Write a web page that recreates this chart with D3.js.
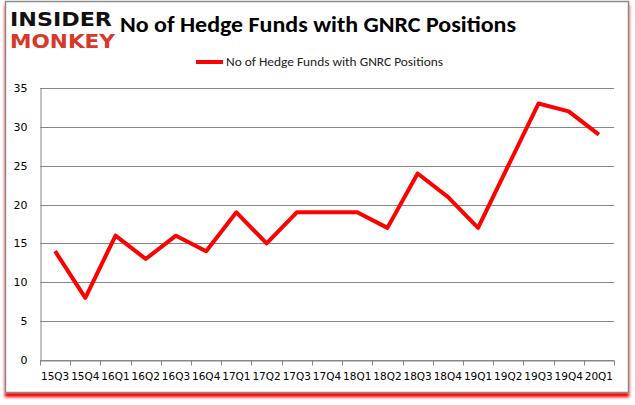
<!DOCTYPE html>
<html>
<head>
<meta charset="utf-8">
<script src="https://cdn.jsdelivr.net/npm/d3@7"></script>
<style>
  body { margin: 0; background: #fff; }
  svg { display: block; }
</style>
</head>
<body>
<div id="chart"></div>
<script>
const quarters = ["15Q3","15Q4","16Q1","16Q2","16Q3","16Q4","17Q1","17Q2","17Q3","17Q4",
                  "18Q1","18Q2","18Q3","18Q4","19Q1","19Q2","19Q3","19Q4","20Q1"];
const hedgeFunds = [14, 8, 16, 13, 16, 14, 19, 15, 19, 19, 19, 17, 24, 21, 17, 25, 33, 32, 29];
const yTicks = [0, 5, 10, 15, 20, 25, 30, 35];
const seriesName = "No of Hedge Funds with GNRC Positions";

const w = 635;
const h = 405;
const font = "Carlito, 'Open Sans', sans-serif";
const tickFont = "'DejaVu Sans', Verdana, sans-serif";

const svg = d3.select("#chart")
              .append("svg")
              .attr("width", w)
              .attr("height", h);

// red shadow under the frame
const defs = svg.append("defs");
const filter = defs.append("filter")
  .attr("id", "shadow")
  .attr("x", "-5%").attr("y", "-5%")
  .attr("width", "110%").attr("height", "112%");
filter.append("feDropShadow")
  .attr("dx", 0).attr("dy", 4)
  .attr("stdDeviation", 1.6)
  .attr("flood-color", "#ff0000")
  .attr("flood-opacity", 1);

svg.append("rect")
  .attr("x", 5.5).attr("y", 1.5)
  .attr("width", 623).attr("height", 391)
  .attr("fill", "#fff")
  .attr("stroke", "#8a8a8a")
  .attr("stroke-width", 1.5)
  .attr("filter", "url(#shadow)");

// logo
svg.append("text")
  .attr("x", 10).attr("y", 26)
  .attr("textLength", 102).attr("lengthAdjust", "spacingAndGlyphs")
  .style("font-family", "'DejaVu Sans', sans-serif")
  .style("font-weight", "900")
  .style("font-size", "20px")
  .attr("fill", "#111")
  .text("INSIDER");
svg.append("text")
  .attr("x", 10).attr("y", 48)
  .attr("textLength", 105).attr("lengthAdjust", "spacingAndGlyphs")
  .style("font-family", "'DejaVu Sans', sans-serif")
  .style("font-weight", "900")
  .style("font-size", "20px")
  .attr("fill", "#d8372a")
  .text("MONKEY");

// title
svg.append("text")
  .attr("x", 120).attr("y", 32)
  .attr("textLength", 396).attr("lengthAdjust", "spacingAndGlyphs")
  .style("font-family", font)
  .style("font-weight", "bold")
  .style("font-size", "23px")
  .attr("fill", "#000")
  .text(seriesName);

// legend
svg.append("line")
  .attr("x1", 196).attr("x2", 223)
  .attr("y1", 62).attr("y2", 62)
  .attr("stroke", "#ff0000")
  .attr("stroke-width", 4);
svg.append("text")
  .attr("x", 226).attr("y", 66)
  .attr("textLength", 217).attr("lengthAdjust", "spacingAndGlyphs")
  .style("font-family", font)
  .style("font-size", "12px")
  .attr("fill", "#222")
  .text(seriesName);

// scales
const xScale = d3.scaleBand()
                 .domain(quarters)
                 .range([40, 614]);

const yScale = d3.scaleLinear()
                 .domain([0, 35])
                 .range([360, 88]);

// gridlines
svg.append("g")
  .selectAll("line")
  .data(yTicks)
  .join("line")
  .attr("x1", 40).attr("x2", 614)
  .attr("y1", d => Math.round(yScale(d)) + 0.5)
  .attr("y2", d => Math.round(yScale(d)) + 0.5)
  .attr("stroke", "#878787")
  .attr("stroke-width", 1);

// y axis
const yAxis = d3.axisLeft(yScale)
                .tickValues(yTicks)
                .tickSize(0)
                .tickPadding(13);
const gy = svg.append("g")
  .attr("transform", "translate(40.5,0)")
  .call(yAxis);
gy.select(".domain").attr("stroke", "#878787");
gy.selectAll("text")
  .style("font-family", tickFont)
  .style("font-size", "11px")
  .attr("fill", "#000");

// x axis
const xAxis = d3.axisBottom(xScale)
                .tickSize(0)
                .tickPadding(12);
const gx = svg.append("g")
  .attr("transform", "translate(0," + (yScale(0) + 0.5) + ")")
  .call(xAxis);
gx.select(".domain").attr("stroke", "#878787");
gx.selectAll("text")
  .style("font-family", tickFont)
  .style("font-size", "10.5px")
  .attr("fill", "#000");

// tick marks at band boundaries
const bounds = quarters.map(q => xScale(q)).concat([xScale.range()[1]]);
gx.append("g")
  .selectAll("line")
  .data(bounds)
  .join("line")
  .attr("x1", d => Math.round(d) + 0.5)
  .attr("x2", d => Math.round(d) + 0.5)
  .attr("y1", 0).attr("y2", 5)
  .attr("stroke", "#878787");

// series line
const line = d3.line()
  .x((d, i) => xScale(quarters[i]) + xScale.bandwidth() / 2)
  .y(d => yScale(d));

svg.append("path")
  .datum(hedgeFunds)
  .attr("d", line)
  .attr("fill", "none")
  .attr("stroke", "#ff0000")
  .attr("stroke-width", 4)
  .attr("stroke-linejoin", "round");
</script>
</body>
</html>
